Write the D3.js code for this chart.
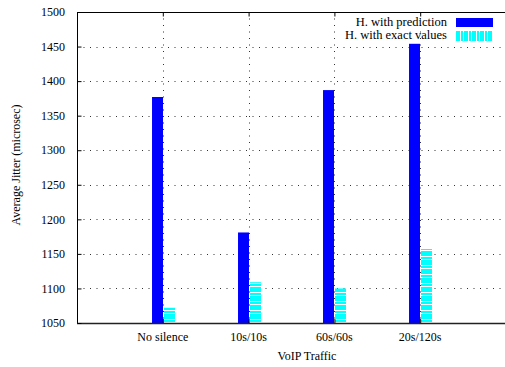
<!DOCTYPE html>
<html>
<head>
<meta charset="utf-8">
<script src="https://cdn.jsdelivr.net/npm/d3@7"></script>
<style>
  body { margin: 0; background: #fff; }
  svg { display: block; }
</style>
</head>
<body>
<div id="chart"></div>
<script>
// chart data
const categories = ["No silence", "10s/10s", "60s/60s", "20s/120s"];
const withPrediction = [1377, 1181, 1387, 1454];
const withExact = [1072, 1109, 1100, 1157];
const yTicks = [1050, 1100, 1150, 1200, 1250, 1300, 1350, 1400, 1450, 1500];
const seriesNames = ["H. with prediction", "H. with exact values"];

const width = 505, height = 367;
const plotLeft = 77, plotTop = 12, plotBottom = 323, plotRight = 506;

const svg = d3.select("#chart").append("svg")
    .attr("width", width)
    .attr("height", height)
    .attr("font-family", "'Liberation Serif', 'Times New Roman', Times, 'DejaVu Serif', serif");

// fill patterns for the "exact values" bars (gnuplot style stripes)
const defs = svg.append("defs");
const hPat = defs.append("pattern")
    .attr("id", "stripesH")
    .attr("patternUnits", "userSpaceOnUse")
    .attr("width", 20).attr("height", 9)
    .attr("y", plotBottom);
hPat.append("rect").attr("width", 20).attr("height", 9).attr("fill", "#fff");
hPat.append("rect").attr("y", 0).attr("width", 20).attr("height", 5).attr("fill", "#00ffff");
hPat.append("rect").attr("y", 6).attr("width", 20).attr("height", 2).attr("fill", "#00ffff");

const vPat = defs.append("pattern")
    .attr("id", "stripesV")
    .attr("patternUnits", "userSpaceOnUse")
    .attr("width", 8).attr("height", 20)
    .attr("x", 456);
vPat.append("rect").attr("width", 8).attr("height", 20).attr("fill", "#fff");
vPat.append("rect").attr("x", 0).attr("width", 4).attr("height", 20).attr("fill", "#00ffff");
vPat.append("rect").attr("x", 5).attr("width", 2).attr("height", 20).attr("fill", "#00ffff");

// scales
const x = d3.scaleLinear().domain([0, 5]).range([plotLeft, plotRight]);
const y = d3.scaleLinear().domain([1050, 1500]).range([plotBottom, plotTop]);

const barW = x(0.128) - x(0);

// grid
const grid = svg.append("g")
    .attr("stroke", "#333")
    .attr("stroke-width", 1)
    .attr("stroke-dasharray", "1,5.5");

grid.selectAll("line.hg")
    .data(yTicks.slice(1, -1))
    .enter().append("line")
    .attr("class", "hg")
    .attr("x1", plotLeft).attr("x2", plotRight)
    .attr("y1", d => Math.round(y(d)) + 0.5)
    .attr("y2", d => Math.round(y(d)) + 0.5);

grid.selectAll("line.vg")
    .data(categories)
    .enter().append("line")
    .attr("class", "vg")
    .attr("x1", (d, i) => Math.round(x(i + 1)) + 0.5)
    .attr("x2", (d, i) => Math.round(x(i + 1)) + 0.5)
    .attr("y1", plotTop).attr("y2", plotBottom);

// bars
svg.selectAll("rect.pred")
    .data(withPrediction)
    .enter().append("rect")
    .attr("class", "pred")
    .attr("x", (d, i) => Math.round(x(i + 1)) - barW)
    .attr("width", barW)
    .attr("y", d => y(d))
    .attr("height", d => plotBottom - y(d))
    .attr("fill", "#0000ff");

svg.selectAll("rect.exact")
    .data(withExact)
    .enter().append("rect")
    .attr("class", "exact")
    .attr("x", (d, i) => Math.round(x(i + 1)) + 1)
    .attr("width", barW)
    .attr("y", d => y(d))
    .attr("height", d => plotBottom - y(d))
    .attr("fill", "url(#stripesH)");

// border
const border = svg.append("g").attr("stroke", "#000").attr("fill", "none");
border.append("line")
    .attr("x1", plotLeft + 0.5).attr("x2", plotLeft + 0.5)
    .attr("y1", plotTop).attr("y2", plotBottom)
    .attr("stroke-width", 1);
border.append("line")
    .attr("x1", plotLeft).attr("x2", plotRight)
    .attr("y1", plotTop + 0.5).attr("y2", plotTop + 0.5)
    .attr("stroke-width", 1);
border.append("line")
    .attr("x1", plotLeft).attr("x2", plotRight)
    .attr("y1", plotBottom + 0.5).attr("y2", plotBottom + 0.5)
    .attr("stroke", "#222")
    .attr("stroke-width", 1.6);

// y axis ticks + labels
const yAxis = svg.append("g")
    .attr("transform", `translate(${plotLeft + 0.5},0)`)
    .call(d3.axisRight(y).tickValues(yTicks).tickSize(4).tickFormat(""));
yAxis.select(".domain").remove();
yAxis.selectAll("line").attr("stroke", "#000");

svg.append("g").selectAll("text")
    .data(yTicks)
    .enter().append("text")
    .attr("x", 65)
    .attr("y", d => y(d))
    .attr("dy", "0.35em")
    .attr("text-anchor", "end")
    .attr("font-size", 12)
    .text(d => d);

// x ticks (bottom and mirrored top)
const xTickVals = categories.map((d, i) => i + 1);
const xBottom = svg.append("g")
    .attr("transform", `translate(0,${plotBottom})`)
    .call(d3.axisTop(x).tickValues(xTickVals).tickSize(4).tickFormat(""));
xBottom.select(".domain").remove();
const xTop = svg.append("g")
    .attr("transform", `translate(0,${plotTop + 0.5})`)
    .call(d3.axisBottom(x).tickValues(xTickVals).tickSize(4).tickFormat(""));
xTop.select(".domain").remove();

svg.append("g").selectAll("text")
    .data(categories)
    .enter().append("text")
    .attr("x", (d, i) => x(i + 1))
    .attr("y", 341)
    .attr("text-anchor", "middle")
    .attr("font-size", 12)
    .text(d => d);

// axis titles
svg.append("text")
    .attr("x", 307)
    .attr("y", 360)
    .attr("text-anchor", "middle")
    .attr("font-size", 12)
    .text("VoIP Traffic");

svg.append("text")
    .attr("transform", "translate(20,165) rotate(-90)")
    .attr("text-anchor", "middle")
    .attr("font-size", 12)
    .text("Average Jitter (microsec)");

// legend
const legend = svg.append("g");
legend.append("rect").attr("x", 456).attr("y", 18).attr("width", 37).attr("height", 9).attr("fill", "#0000ff");
legend.append("rect").attr("x", 456).attr("y", 31).attr("width", 37).attr("height", 10).attr("fill", "url(#stripesV)");
legend.selectAll("text")
    .data(seriesNames)
    .enter().append("text")
    .attr("x", 447)
    .attr("y", (d, i) => 26 + i * 13)
    .attr("text-anchor", "end")
    .attr("font-size", 12.5)
    .text(d => d);
</script>
</body>
</html>
